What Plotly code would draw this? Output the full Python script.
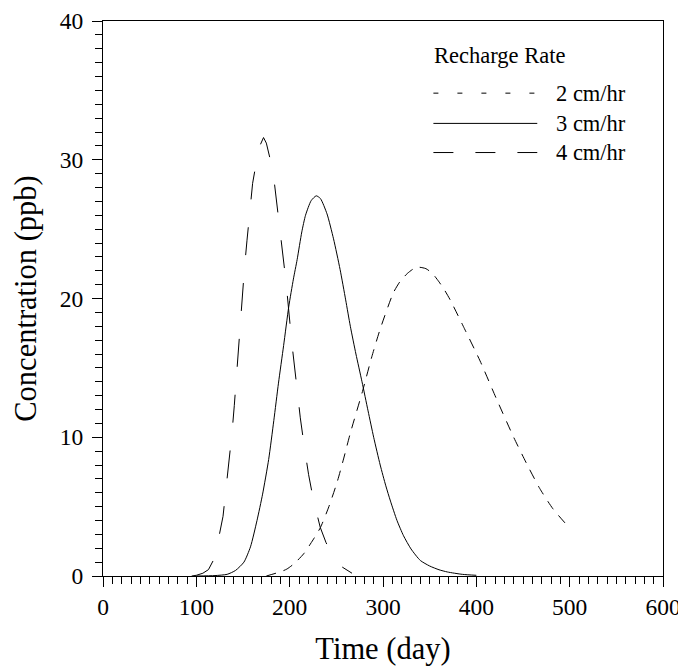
import plotly.graph_objects as go

# Recharge rate 2 cm/hr (short dash)
t_2cm = [175, 190, 197, 205, 215, 225, 233, 242, 251, 258, 265, 278, 288, 297, 311,
         318, 326, 333, 339, 346, 353, 360, 366, 372, 386, 404, 422, 440, 455, 468, 482, 498]
c_2cm = [0.0, 0.3, 0.5, 0.9, 1.6, 2.6, 3.5, 5.0, 6.8, 8.5, 10.3, 13.3, 15.8, 17.8, 20.4,
         21.2, 21.8, 22.15, 22.25, 22.15, 21.8, 21.2, 20.6, 19.9, 18.0, 15.5, 12.7, 10.0, 7.95, 6.3, 4.85, 3.6]

# Recharge rate 3 cm/hr (solid)
t_3cm = [100, 120, 133, 142, 151, 158, 165, 171, 177.5, 183, 188, 193.5, 199, 204, 208, 213, 217,
         223, 228.5, 233, 240, 247, 254, 260, 265, 271, 277.5, 284, 290, 297, 303, 308, 315,
         322, 330, 340, 350, 360, 369, 385, 400]
c_3cm = [0.0, 0.03, 0.12, 0.4, 1.0, 2.1, 4.0, 5.9, 8.4, 11.2, 13.9, 16.6, 19.4, 21.4, 22.8, 24.8, 26.0,
         27.05, 27.4, 27.2, 26.1, 24.3, 22.1, 19.9, 18.0, 16.0, 14.0, 11.9, 10.0, 8.0, 6.5, 5.4, 4.0,
         2.9, 1.95, 1.12, 0.72, 0.45, 0.29, 0.12, 0.05]

# Recharge rate 4 cm/hr (long dash)
t_4cm = [95, 100, 107, 113, 118, 122.8, 128.6, 131.8, 135.7, 138.2, 140.7, 145, 149.3, 151.7,
         154.3, 157.1, 160.3, 165, 168, 172, 175, 182.1, 185.7, 189.2, 192.9, 196.1, 202,
         207.9, 211.4, 215.7, 220.3, 225.7, 232.8, 239, 245.4, 255, 266.8]
c_4cm = [0.0, 0.05, 0.2, 0.46, 1.1, 2.35, 4.3, 6.3, 8.3, 10.3, 12.3, 16.3, 20.3, 22.3,
         24.2, 26.3, 28.3, 30.1, 31.0, 31.6, 31.2, 29.2, 27.2, 25.2, 23.3, 21.2, 17.0,
         13.3, 11.4, 9.3, 7.3, 5.4, 3.5, 2.4, 1.55, 0.7, 0.2]

rates = ['2 cm/hr', '3 cm/hr', '4 cm/hr']

serif = 'Liberation Serif'

fig = go.Figure()
fig.add_trace(go.Scatter(x=t_2cm, y=c_2cm, mode='lines', name=rates[0],
                         line=dict(color='black', width=1, dash='10px,8px', shape='spline', smoothing=0.6)))
fig.add_trace(go.Scatter(x=t_3cm, y=c_3cm, mode='lines', name=rates[1],
                         line=dict(color='black', width=1, shape='spline', smoothing=0.6)))
fig.add_trace(go.Scatter(x=t_4cm, y=c_4cm, mode='lines', name=rates[2],
                         line=dict(color='black', width=1, dash='28px,28px')))

# hand-made legend (long sample lines like the original)
legend_dash = ['5px,19px', 'solid', '20px,22px']
legend_y = [0.870, 0.8155, 0.763]
for lab, dsh, ly in zip(rates, legend_dash, legend_y):
    fig.add_shape(type='line', xref='paper', yref='paper', x0=0.590, x1=0.7755, y0=ly, y1=ly,
                  line=dict(color='black', width=1, dash=dsh))
    fig.add_annotation(xref='paper', yref='paper', x=0.806, y=ly, text=lab, showarrow=False,
                       xanchor='left', yanchor='middle', font=dict(family=serif, size=22.5, color='black'))
fig.add_annotation(xref='paper', yref='paper', x=0.588, y=0.937, text='Recharge Rate', showarrow=False,
                   xanchor='left', yanchor='middle', font=dict(family=serif, size=22.5, color='black'))

axis_style = dict(showline=True, linecolor='black', linewidth=1, mirror=True, showgrid=False,
                  zeroline=False, ticks='outside', ticklen=10, tickcolor='black', tickwidth=1,
                  automargin=False, ticklabeloverflow='allow',
                  tickfont=dict(family=serif, size=23.5, color='black'))

fig.update_xaxes(range=[0, 600], dtick=100, minor=dict(ticks='outside', ticklen=7, dtick=10,
                 tickcolor='black', showgrid=False),
                 title=dict(text='Time (day)', font=dict(family=serif, size=30.5, color='black'), standoff=18),
                 **axis_style)
fig.update_yaxes(range=[0, 40], dtick=10, minor=dict(ticks='outside', ticklen=7, dtick=1,
                 tickcolor='black', showgrid=False), ticklabelstandoff=4,
                 title=dict(text='Concentration (ppb)', font=dict(family=serif, size=30.5, color='black'), standoff=14),
                 **axis_style)

# page body keeps an 8px margin, so the figure starts 8px in from the window corner;
# a few px of extra top margin keep the "40" label inside the figure
fig.update_layout(width=678, height=659, margin=dict(l=95, r=23, t=13, b=91),
                  plot_bgcolor='white', paper_bgcolor='white', showlegend=False)

fig.write_html("out.html")
